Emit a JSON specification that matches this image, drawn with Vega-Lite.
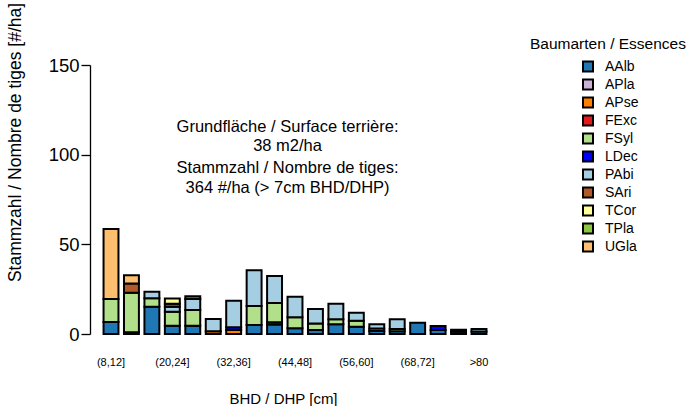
{
  "$schema": "https://vega.github.io/schema/vega-lite/v6.json",
  "autosize": {"type": "none"},
  "width": 400,
  "height": 269,
  "padding": {"left": 95, "top": 65, "right": 194, "bottom": 72},
  "background": "white",
  "config": {"font": "Liberation Sans", "view": {"stroke": null}},
  "datasets": {
    "bars": [
      {"dbh": "(8,12]", "species": "AAlb", "n": 6.7},
      {"dbh": "(8,12]", "species": "FSyl", "n": 12.8},
      {"dbh": "(8,12]", "species": "UGla", "n": 39},
      {"dbh": "(12,16]", "species": "AAlb", "n": 1},
      {"dbh": "(12,16]", "species": "FSyl", "n": 22},
      {"dbh": "(12,16]", "species": "SAri", "n": 5.2},
      {"dbh": "(12,16]", "species": "UGla", "n": 4.6},
      {"dbh": "(16,20]", "species": "AAlb", "n": 15.2},
      {"dbh": "(16,20]", "species": "FSyl", "n": 4.7},
      {"dbh": "(16,20]", "species": "PAbi", "n": 3.7},
      {"dbh": "(20,24]", "species": "AAlb", "n": 4.6},
      {"dbh": "(20,24]", "species": "FSyl", "n": 7.8},
      {"dbh": "(20,24]", "species": "PAbi", "n": 2.8},
      {"dbh": "(20,24]", "species": "SAri", "n": 1.6},
      {"dbh": "(20,24]", "species": "TCor", "n": 3},
      {"dbh": "(24,28]", "species": "AAlb", "n": 4.6},
      {"dbh": "(24,28]", "species": "FSyl", "n": 8.8},
      {"dbh": "(24,28]", "species": "PAbi", "n": 6.1},
      {"dbh": "(24,28]", "species": "SAri", "n": 1.5},
      {"dbh": "(28,32]", "species": "APse", "n": 1.5},
      {"dbh": "(28,32]", "species": "PAbi", "n": 6.9},
      {"dbh": "(32,36]", "species": "APse", "n": 2.2},
      {"dbh": "(32,36]", "species": "LDec", "n": 1.5},
      {"dbh": "(32,36]", "species": "PAbi", "n": 14.9},
      {"dbh": "(36,40]", "species": "AAlb", "n": 5},
      {"dbh": "(36,40]", "species": "FSyl", "n": 10.6},
      {"dbh": "(36,40]", "species": "PAbi", "n": 19.9},
      {"dbh": "(40,44]", "species": "AAlb", "n": 5.3},
      {"dbh": "(40,44]", "species": "FExc", "n": 1.2},
      {"dbh": "(40,44]", "species": "FSyl", "n": 10.8},
      {"dbh": "(40,44]", "species": "PAbi", "n": 15.1},
      {"dbh": "(44,48]", "species": "AAlb", "n": 3.2},
      {"dbh": "(44,48]", "species": "FSyl", "n": 6.1},
      {"dbh": "(44,48]", "species": "PAbi", "n": 11.5},
      {"dbh": "(48,52]", "species": "AAlb", "n": 2.2},
      {"dbh": "(48,52]", "species": "FSyl", "n": 3.7},
      {"dbh": "(48,52]", "species": "PAbi", "n": 8},
      {"dbh": "(52,56]", "species": "AAlb", "n": 5.4},
      {"dbh": "(52,56]", "species": "FSyl", "n": 2.8},
      {"dbh": "(52,56]", "species": "PAbi", "n": 8.6},
      {"dbh": "(56,60]", "species": "AAlb", "n": 4},
      {"dbh": "(56,60]", "species": "FSyl", "n": 3.4},
      {"dbh": "(56,60]", "species": "PAbi", "n": 4.5},
      {"dbh": "(60,64]", "species": "AAlb", "n": 1.7},
      {"dbh": "(60,64]", "species": "FSyl", "n": 1.3},
      {"dbh": "(60,64]", "species": "PAbi", "n": 2.4},
      {"dbh": "(64,68]", "species": "AAlb", "n": 1.5},
      {"dbh": "(64,68]", "species": "FSyl", "n": 1.3},
      {"dbh": "(64,68]", "species": "PAbi", "n": 5.4},
      {"dbh": "(68,72]", "species": "AAlb", "n": 6.3},
      {"dbh": "(72,76]", "species": "AAlb", "n": 2.2},
      {"dbh": "(72,76]", "species": "LDec", "n": 2.3},
      {"dbh": "(76,80]", "species": "AAlb", "n": 1.2},
      {"dbh": "(76,80]", "species": "PAbi", "n": 1.2},
      {"dbh": ">80", "species": "AAlb", "n": 1.4},
      {"dbh": ">80", "species": "PAbi", "n": 1.4}
    ],
    "notes": [
      {"dbh": "(44,48]", "yv": 115.4, "label": "Grundfläche / Surface terrière:"},
      {"dbh": "(44,48]", "yv": 104.8, "label": "38 m2/ha"},
      {"dbh": "(44,48]", "yv": 92.6, "label": "Stammzahl / Nombre de tiges:"},
      {"dbh": "(44,48]", "yv": 81.4, "label": "364 #/ha (> 7cm BHD/DHP)"}
    ]
  },
  "layer": [
    {
      "data": {"name": "bars"},
      "mark": {"type": "bar", "stroke": "black", "strokeWidth": 2},
      "encoding": {
        "x": {
          "field": "dbh",
          "type": "nominal",
          "sort": ["(8,12]", "(12,16]", "(16,20]", "(20,24]", "(24,28]", "(28,32]", "(32,36]", "(36,40]", "(40,44]", "(44,48]", "(48,52]", "(52,56]", "(56,60]", "(60,64]", "(64,68]", "(68,72]", "(72,76]", "(76,80]", ">80"],
          "scale": {"paddingInner": 0.27, "paddingOuter": 0.418},
          "axis": {
            "values": ["(8,12]", "(20,24]", "(32,36]", "(44,48]", "(56,60]", "(68,72]", ">80"],
            "domain": false,
            "ticks": false,
            "labelAngle": 0,
            "labelFontSize": 11,
            "labelColor": "black",
            "labelPadding": 22,
            "title": "BHD / DHP [cm]",
            "titleFontSize": 15,
            "titleFontWeight": "normal",
            "titleColor": "black",
            "titleX": 188,
            "titleY": 64,
            "titleAlign": "center",
            "titleBaseline": "middle"
          }
        },
        "y": {
          "field": "n",
          "type": "quantitative",
          "stack": "zero",
          "scale": {"domain": [0, 150], "nice": false},
          "axis": {
            "values": [0, 50, 100, 150],
            "grid": false,
            "offset": 5,
            "domainColor": "black",
            "domainWidth": 1.3,
            "tickColor": "black",
            "tickWidth": 1.3,
            "tickSize": 9,
            "labelFontSize": 18.5,
            "labelColor": "black",
            "labelPadding": 2,
            "title": "Stammzahl / Nombre de tiges [#/ha]",
            "titleFontSize": 17.5,
            "titleFontWeight": "normal",
            "titleColor": "black",
            "titleAngle": -90,
            "titleX": -75,
            "titleY": 77,
            "titleAlign": "center",
            "titleBaseline": "middle"
          }
        },
        "color": {
          "field": "species",
          "type": "nominal",
          "scale": {
            "domain": ["AAlb", "APla", "APse", "FExc", "FSyl", "LDec", "PAbi", "SAri", "TCor", "TPla", "UGla"],
            "range": ["#1f78b4", "#cab2d6", "#ff7f00", "#e31a1c", "#b2df8a", "#0000ff", "#a6cee3", "#b15928", "#ffff99", "#8cc63f", "#fdbf6f"]
          },
          "legend": {
            "orient": "none",
            "legendX": 435,
            "legendY": -28,
            "padding": 0,
            "title": "Baumarten / Essences",
            "titleFontSize": 15.5,
            "titleFontWeight": "normal",
            "titleColor": "black",
            "titlePadding": 7,
            "labelFontSize": 14,
            "labelColor": "black",
            "labelOffset": 10,
            "symbolType": "square",
            "symbolSize": 100,
            "symbolStrokeColor": "black",
            "symbolStrokeWidth": 2,
            "symbolOffset": 51,
            "rowPadding": 0
          }
        },
        "order": {"field": "species", "sort": "ascending"}
      }
    },
    {
      "data": {"name": "notes"},
      "mark": {"type": "text", "fontSize": 16.5, "align": "center", "baseline": "middle", "color": "black"},
      "encoding": {
        "x": {
          "field": "dbh",
          "type": "nominal",
          "bandPosition": 0,
          "sort": ["(8,12]", "(12,16]", "(16,20]", "(20,24]", "(24,28]", "(28,32]", "(32,36]", "(36,40]", "(40,44]", "(44,48]", "(48,52]", "(52,56]", "(56,60]", "(60,64]", "(64,68]", "(68,72]", "(72,76]", "(76,80]", ">80"]
        },
        "y": {"field": "yv", "type": "quantitative"},
        "text": {"field": "label"}
      }
    }
  ]
}
